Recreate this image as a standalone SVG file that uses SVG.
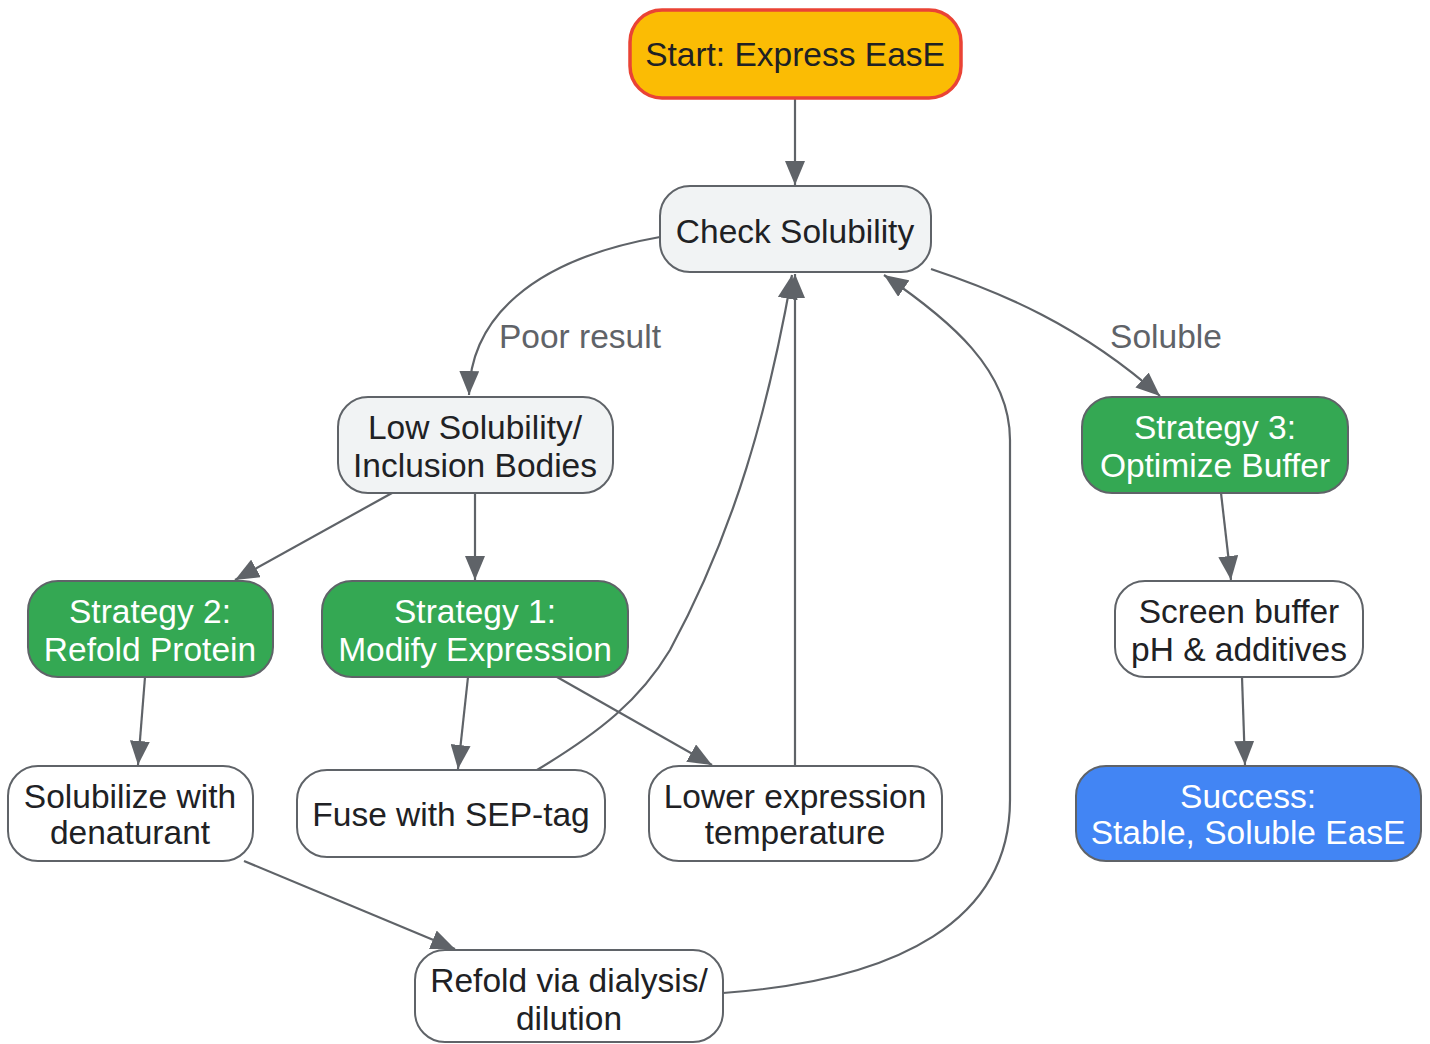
<svg xmlns="http://www.w3.org/2000/svg" width="1430" height="1044" viewBox="0 0 1430 1044">
<defs>
<marker id="ah" viewBox="0 0 24 20" refX="24" refY="10" markerWidth="24" markerHeight="20" orient="auto" markerUnits="userSpaceOnUse">
<path d="M0,0 L24,10 L0,20 z" fill="#5f6368"/>
</marker>
<style>
.n rect{stroke:#5f6368;stroke-width:2}
.light rect{fill:#f1f3f4}
.white rect{fill:#ffffff}
.green rect{fill:#34a853}
.blue rect{fill:#4285f4}
text{font-family:"Liberation Sans",Arial,sans-serif;font-size:33.5px;text-anchor:middle}
.light text,.white text{fill:#202124}
.green text,.blue text{fill:#ffffff}
.e path{fill:none;stroke:#5f6368;stroke-width:2.2;marker-end:url(#ah)}
.lbl{fill:#5f6368}
</style>
</defs>
<rect width="1430" height="1044" fill="#ffffff"/>
<g class="e" id="edges">
<path d="M795,98 L795,185"/>
<path d="M660,237 C530,260 470,320 469,395"/>
<path d="M931,269 C1000,292 1080,325 1160,396"/>
<path d="M392,493 L235,580"/>
<path d="M475,493 L475,580"/>
<path d="M145,677 L138,765"/>
<path d="M468,677 L458,769"/>
<path d="M557,677 L712,765"/>
<path d="M537,770 C600,732 640,700 670,650 C735,530 768,410 792,275"/>
<path d="M795,766 L795,274"/>
<path d="M244,861 L455,949"/>
<path d="M723,993 C900,980 1010,920 1010,800 L1010,440 C1010,370 950,320 884,275"/>
<path d="M1221,493 L1231,580"/>
<path d="M1242,677 L1245,765"/>
<text class="lbl" x="580" y="348">Poor result</text>
<text class="lbl" x="1166" y="348">Soluble</text>
</g>
<g id="start" class="n"><rect x="630" y="10" width="331" height="88" rx="32" style="fill:#fbbc04;stroke:#ea4335;stroke-width:3.5"/><text x="795" y="66" fill="#202124">Start: Express EasE</text></g>
<g id="check" class="n light"><rect x="660" y="186" width="271" height="86" rx="30"/><text x="795" y="243">Check Solubility</text></g>
<g id="low" class="n light"><rect x="338" y="397" width="275" height="96" rx="30"/><text x="475" y="439">Low Solubility/</text><text x="475" y="477">Inclusion Bodies</text></g>
<g id="s3" class="n green"><rect x="1082" y="397" width="266" height="96" rx="30"/><text x="1215" y="439">Strategy 3:</text><text x="1215" y="477">Optimize Buffer</text></g>
<g id="s2" class="n green"><rect x="28" y="581" width="245" height="96" rx="30"/><text x="150" y="623">Strategy 2:</text><text x="150" y="661">Refold Protein</text></g>
<g id="s1" class="n green"><rect x="322" y="581" width="306" height="96" rx="30"/><text x="475" y="623">Strategy 1:</text><text x="475" y="661">Modify Expression</text></g>
<g id="screen" class="n white"><rect x="1115" y="581" width="248" height="96" rx="30"/><text x="1239" y="623">Screen buffer</text><text x="1239" y="661">pH &amp; additives</text></g>
<g id="solub" class="n white"><rect x="8" y="766" width="245" height="95" rx="30"/><text x="130" y="808">Solubilize with</text><text x="130" y="844">denaturant</text></g>
<g id="fuse" class="n white"><rect x="297" y="770" width="308" height="87" rx="30"/><text x="451" y="826">Fuse with SEP-tag</text></g>
<g id="lower" class="n white"><rect x="649" y="766" width="293" height="95" rx="30"/><text x="795" y="808">Lower expression</text><text x="795" y="844">temperature</text></g>
<g id="success" class="n blue"><rect x="1076" y="766" width="345" height="95" rx="30"/><text x="1248" y="808">Success:</text><text x="1248" y="844">Stable, Soluble EasE</text></g>
<g id="refold" class="n white"><rect x="415" y="950" width="308" height="92" rx="30"/><text x="569" y="992">Refold via dialysis/</text><text x="569" y="1030">dilution</text></g>
</svg>
